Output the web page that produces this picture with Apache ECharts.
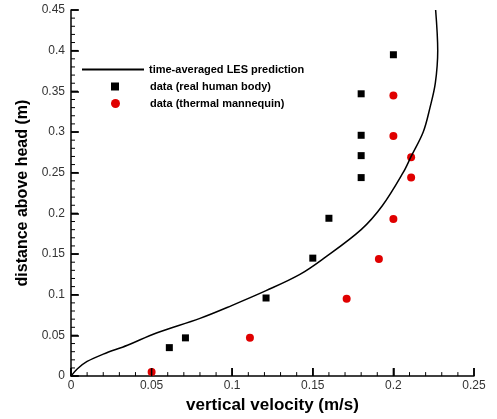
<!DOCTYPE html>
<html>
<head>
<meta charset="utf-8">
<script src="https://cdn.jsdelivr.net/npm/echarts@6/dist/echarts.min.js"></script>
<style>
  html, body { margin: 0; padding: 0; background: #ffffff; }
  #chart { width: 497px; height: 419px; }
</style>
</head>
<body>
<div id="chart"></div>
<script>
  // LES profile (velocity m/s, height m)
  var lesVel = [0, 0.004, 0.010, 0.020, 0.035, 0.053, 0.080, 0.100, 0.121, 0.142, 0.157, 0.180, 0.193, 0.206, 0.211, 0.2185, 0.2227, 0.226, 0.2275, 0.2262];
  var lesHeight = [0, 0.009, 0.018, 0.027, 0.038, 0.053, 0.071, 0.087, 0.105, 0.125, 0.145, 0.180, 0.209, 0.250, 0.270, 0.300, 0.330, 0.360, 0.400, 0.450];

  // measurements, real human body
  var humanVel = [0.2, 0.18, 0.18, 0.18, 0.18, 0.16, 0.15, 0.121, 0.071, 0.061];
  var humanHeight = [0.395, 0.347, 0.296, 0.271, 0.244, 0.194, 0.145, 0.096, 0.047, 0.035];

  // measurements, thermal mannequin
  var mannVel = [0.2, 0.2, 0.211, 0.211, 0.2, 0.191, 0.171, 0.111, 0.05];
  var mannHeight = [0.345, 0.295, 0.269, 0.244, 0.193, 0.144, 0.095, 0.047, 0.005];

  var names = ['time-averaged LES prediction', 'data (real human body)', 'data (thermal mannequin)'];

  function pairs(xs, ys) {
    var out = [];
    for (var i = 0; i < xs.length; i++) out.push([xs[i], ys[i]]);
    return out;
  }

  // tick marks every 0.01, longer every 0.05 (drawn inward from the axes)
  var tickMarks = [];
  for (var t = 0; t <= 25; t++) tickMarks.push([t / 100, 0, t % 5 === 0 ? 8 : 4, 1]);
  for (var u = 0; u <= 45; u++) tickMarks.push([0, u / 100, u % 5 === 0 ? 7 : 4, 0]);

  var font = 'Liberation Sans, Arial, sans-serif';

  function axis(max, extra) {
    var a = {
      type: 'value', min: 0, max: max, interval: 0.05,
      nameLocation: 'middle',
      axisLine: { show: true, lineStyle: { color: '#000', width: 1.5 } },
      axisTick: { show: true, inside: true, length: 8, lineStyle: { color: '#000', width: 1.5 } },
      splitLine: { show: false }
    };
    return Object.assign(a, extra);
  }

  var myChart = echarts.init(document.getElementById('chart'));
  var option = {
    animation: false,
    grid: { left: 71, top: 10, right: 23, bottom: 42 },
    legend: [
      { left: 76, top: 59, itemWidth: 62, itemHeight: 12, data: [names[0]], itemStyle: { opacity: 0 },
        textStyle: { color: '#000', fontSize: 11, fontWeight: 'bold', fontFamily: font } },
      { left: 106, top: 76, itemWidth: 8, itemHeight: 8, data: [names[1]],
        textStyle: { color: '#000', fontSize: 11, fontWeight: 'bold', fontFamily: font, padding: [0, 0, 0, 26] } },
      { left: 106, top: 93, itemWidth: 9, itemHeight: 9, data: [names[2]],
        textStyle: { color: '#000', fontSize: 11, fontWeight: 'bold', fontFamily: font, padding: [0, 0, 0, 25] } }
    ],
    xAxis: axis(0.25, {
      name: 'vertical velocity (m/s)', nameGap: 19,
      nameTextStyle: { color: '#000', fontSize: 17, fontWeight: 'bold', fontFamily: font },
      axisLabel: { color: '#333', fontSize: 12, fontFamily: font, margin: 4 }
    }),
    yAxis: axis(0.45, {
      name: 'distance above head (m)', nameGap: 27,
      nameTextStyle: { color: '#000', fontSize: 16, fontWeight: 'bold', fontFamily: font },
      axisLabel: { color: '#333', fontSize: 12, fontFamily: font, margin: 6 }
    }),
    series: [
      {
        name: names[0], type: 'line', data: pairs(lesVel, lesHeight),
        symbol: 'none', smooth: 0.35,
        lineStyle: { color: '#000', width: 1.5 }, itemStyle: { color: '#000' }
      },
      {
        name: names[1], type: 'scatter', data: pairs(humanVel, humanHeight),
        symbol: 'rect', symbolSize: 7, itemStyle: { color: '#000', opacity: 1 }
      },
      {
        name: names[2], type: 'scatter', data: pairs(mannVel, mannHeight),
        symbol: 'circle', symbolSize: 8, itemStyle: { color: '#e00000', opacity: 1 }
      },
      {
        name: 'ticks', type: 'custom', silent: true, clip: false, z: 5,
        data: tickMarks,
        renderItem: function (params, api) {
          var p = api.coord([api.value(0), api.value(1)]);
          var len = api.value(2);
          var onX = api.value(3) === 1;
          return {
            type: 'line',
            shape: onX ? { x1: p[0], y1: p[1], x2: p[0], y2: p[1] - len }
                       : { x1: p[0], y1: p[1], x2: p[0] + len, y2: p[1] },
            style: { stroke: '#000', lineWidth: len > 5 ? 1.5 : 1 }
          };
        }
      }
    ]
  };
  myChart.setOption(option);
</script>
</body>
</html>
